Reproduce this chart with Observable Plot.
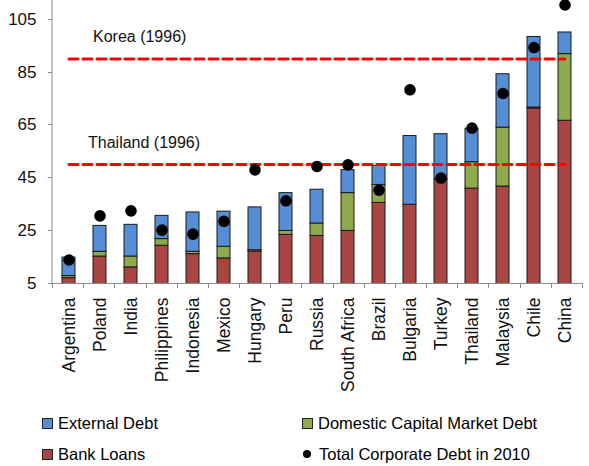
<!DOCTYPE html>
<html><head><meta charset="utf-8">
<script src="https://cdn.jsdelivr.net/npm/d3@7"></script>
<script src="https://cdn.jsdelivr.net/npm/@observablehq/plot@0.6"></script>
<style>
body{margin:0;background:#fff;font-family:"Liberation Sans",Arial,sans-serif;}
#wrap{position:relative;width:589px;height:466px;overflow:hidden}
#wrap svg{position:absolute;left:0;top:0;font-family:"Liberation Sans",Arial,sans-serif;}
.leg{position:absolute;display:flex;align-items:center;font-size:16.5px;color:#000;white-space:pre;line-height:1}
.sw{width:9px;height:9px;border:1px solid #222;margin-right:5px}
.dt{width:8px;height:8px;border-radius:50%;background:#000;margin-right:8px;margin-left:1px}
</style></head><body><div id="wrap"></div>
<script>
const countries = ["Argentina","Poland","India","Philippines","Indonesia","Mexico","Hungary","Peru","Russia","South Africa","Brazil","Bulgaria","Turkey","Thailand","Malaysia","Chile","China"];
const bankLoans    = [7.0, 15.2, 11.1, 19.3, 16.1, 14.5, 17.1, 23.4, 23.0, 24.9, 35.5, 34.8, 44.3, 40.9, 41.7, 71.2, 66.6];
const domesticDebt = [0.8, 1.8, 4.1, 2.5, 0.9, 4.4, 0.5, 1.5, 4.7, 14.3, 6.8, 0.0, 0.0, 10.0, 22.3, 0.4, 25.2];
const externalDebt = [7.0, 9.8, 12.0, 8.8, 14.9, 13.3, 16.2, 14.3, 12.8, 8.7, 7.2, 26.0, 17.2, 12.7, 20.2, 26.7, 8.2];
const totalDebt2010 = [13.9, 30.6, 32.5, 25.2, 23.7, 28.5, 48.0, 36.3, 49.3, 49.9, 40.3, 78.3, 44.9, 63.8, 76.9, 94.3, 110.4];
const yTicks = [5, 25, 45, 65, 85, 105];
const refLabels = ["Korea (1996)", "Thailand (1996)"];
const refValues = [90, 50];
const seriesNames = ["External Debt", "Domestic Capital Market Debt", "Bank Loans", "Total Corporate Debt in 2010"];
const seriesColors = ["#558ED5", "#8EAA4C", "#A94543", "#000000"];

const color = Object.fromEntries(seriesNames.map((s, i) => [s, seriesColors[i]]));

const segments = countries.flatMap((c, i) => {
  const b = bankLoans[i], d = domesticDebt[i], e = externalDebt[i];
  return [
    {country: c, series: "Bank Loans", y1: 0, y2: b},
    {country: c, series: "Domestic Capital Market Debt", y1: b, y2: b + d},
    {country: c, series: "External Debt", y1: b + d, y2: b + d + e}
  ];
});
const dots = countries.map((c, i) => ({country: c, value: totalDebt2010[i]}));
const refs = refLabels.map((l, i) => ({label: l, value: refValues[i]}));
const refLinePts = refs.flatMap(r => [
  {label: r.label, country: countries[0], value: r.value},
  {label: r.label, country: countries[countries.length - 1], value: r.value}
]);

// axis frame: y axis line + ticks, x axis line + category separators
function frame(index, scales, values, dims) {
  const {width, height, marginLeft, marginRight, marginTop, marginBottom} = dims;
  const g = d3.create("svg:g").attr("stroke", "#8c8c8c").attr("stroke-width", 1).attr("fill", "none");
  const bottom = height - marginBottom;
  const left = marginLeft, right = width - marginRight;
  g.append("line").attr("x1", left).attr("x2", left).attr("y1", 0).attr("y2", bottom + 0.5);
  g.append("line").attr("x1", left).attr("x2", right).attr("y1", bottom + 0.5).attr("y2", bottom + 0.5);
  for (const t of yTicks) {
    const y = Math.round(scales.y(t)) + 0.5;
    g.append("line").attr("x1", left - 4).attr("x2", left).attr("y1", y).attr("y2", y);
  }
  const n = countries.length, step = (right - left) / n;
  for (let i = 0; i <= n; i++) {
    const x = Math.round(left + i * step) + 0.5;
    g.append("line").attr("x1", x).attr("x2", x).attr("y1", bottom).attr("y2", bottom + 5);
  }
  return g.node();
}

const chart = Plot.plot({
  width: 589,
  height: 405,
  marginLeft: 52,
  marginRight: 7,
  marginTop: 0,
  marginBottom: 122,
  style: {fontFamily: "Liberation Sans, Arial, sans-serif", background: "#fff", overflow: "visible"},
  x: {domain: countries, paddingInner: 0.58, paddingOuter: 0.29, axis: null, label: null},
  y: {domain: [5, 112.1], axis: null, label: null},
  marks: [
    Plot.barY(segments, {x: "country", y1: "y1", y2: "y2", fill: d => color[d.series], stroke: "#1a1a1a", strokeWidth: 1, clip: true}),
    Plot.lineY(refLinePts, {x: "country", y: "value", z: "label", stroke: "#ff0000", strokeWidth: 3, strokeDasharray: "9,5"}),
    Plot.text(refs.slice(0, 1), {x: () => countries[1], y: "value", text: "label", textAnchor: "start", dx: -7, dy: -22, fontSize: 16, fill: "#111"}),
    Plot.text(refs.slice(1), {x: () => countries[1], y: "value", text: "label", textAnchor: "start", dx: -12, dy: -22, fontSize: 16, fill: "#111"}),
    Plot.dot(dots, {x: "country", y: "value", r: 5.8, fill: "#000", stroke: "none"}),
    frame,
    Plot.axisY(yTicks, {tickSize: 0, tickPadding: 16, fontSize: 17, fill: "#111", label: null}),
    Plot.axisX({tickRotate: -90, tickSize: 0, tickPadding: 14, fontSize: 17.5, fill: "#111", label: null})
  ]
});
document.getElementById("wrap").appendChild(chart);

// legend built from series names/colours
const legendPos = [[42, 415], [302, 415], [42, 446], [302, 446]];
const legendOrder = ["External Debt", "Domestic Capital Market Debt", "Bank Loans", "Total Corporate Debt in 2010"];
legendOrder.forEach((s, i) => {
  const el = document.createElement("div");
  el.className = "leg";
  el.style.left = legendPos[i][0] + "px";
  el.style.top = legendPos[i][1] + "px";
  const sw = document.createElement("div");
  if (s === "Total Corporate Debt in 2010") { sw.className = "dt"; }
  else { sw.className = "sw"; sw.style.background = color[s]; }
  el.appendChild(sw);
  const t = document.createElement("span");
  t.textContent = s;
  el.appendChild(t);
  document.getElementById("wrap").appendChild(el);
});
</script></body></html>
